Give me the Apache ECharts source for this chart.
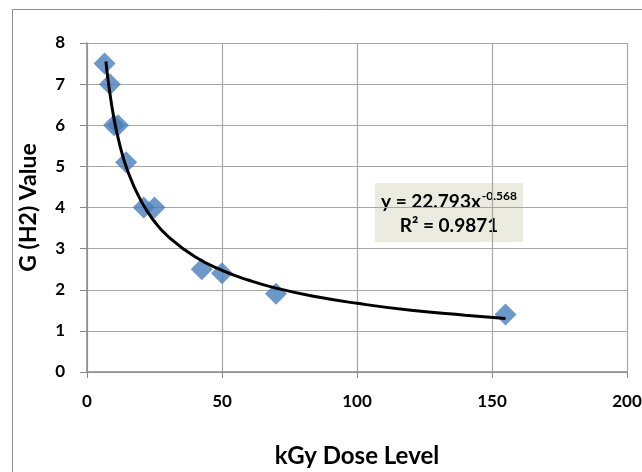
<!DOCTYPE html>
<html>
<head>
<meta charset="utf-8">
<script src="https://cdn.jsdelivr.net/npm/echarts@6/dist/echarts.min.js"></script>
<style>
  html, body { margin: 0; padding: 0; background: #fff; }
  #chart { width: 642px; height: 472px; }
</style>
</head>
<body>
<div id="chart"></div>
<script>
// measured points (kGy, G(H2))
var doseX = [6.5, 8.5, 10, 11.5, 14.5, 21, 25, 42.5, 50, 70, 155]
var gValue = [7.5, 7.0, 6.0, 6.0, 5.1, 4.0, 4.0, 2.5, 2.4, 1.9, 1.4]

// power trendline
var trendX = [7, 8, 10, 12, 15, 20, 25, 30, 40, 50, 60, 70, 85, 100, 120, 140, 155]
var trendY = [7.55, 7.0, 6.16, 5.56, 4.9, 4.16, 3.66, 3.3, 2.8, 2.47, 2.23, 2.04, 1.83, 1.67, 1.5, 1.38, 1.3]

var xTicks = [0, 50, 100, 150, 200]
var yTicks = [0, 1, 2, 3, 4, 5, 6, 7, 8]

var chart = echarts.init(document.getElementById('chart'))

var pts = doseX.map(function (x, i) { return [x, gValue[i]] })
var trend = trendX.map(function (x, i) { return [x, trendY[i]] })

var fontFam = 'Lato, "Open Sans", sans-serif'

var option = {
  animation: false,
  backgroundColor: '#fff',
  grid: {
    left: 87,
    right: 15,
    top: 43,
    bottom: 100,
    outerBoundsMode: 'none'
  },
  xAxis: {
    type: 'value',
    min: xTicks[0],
    max: xTicks[xTicks.length - 1],
    interval: 50,
    name: 'kGy Dose Level',
    nameLocation: 'middle',
    nameGap: 72,
    nameTextStyle: {
      color: '#000',
      fontSize: 24,
      fontWeight: 'bold',
      fontFamily: fontFam
    },
    axisLine: { show: true, lineStyle: { color: '#8a8a8a', width: 1.5 } },
    axisTick: { show: true, length: 6, lineStyle: { color: '#8a8a8a' } },
    axisLabel: {
      color: '#000',
      fontSize: 17,
      fontWeight: 'bold',
      fontFamily: fontFam,
      margin: 21
    },
    // 分割线
    splitLine: { show: true, lineStyle: { color: '#a6a6a6', width: 1.2 } }
  },
  yAxis: {
    type: 'value',
    min: yTicks[0],
    max: yTicks[yTicks.length - 1],
    interval: 1,
    name: 'G (H2) Value',
    nameLocation: 'middle',
    nameGap: 47,
    nameTextStyle: {
      color: '#000',
      fontSize: 23,
      fontWeight: 'bold',
      fontFamily: fontFam
    },
    axisLine: { show: true, lineStyle: { color: '#8a8a8a', width: 1.5 } },
    axisTick: { show: true, length: 7, lineStyle: { color: '#8a8a8a' } },
    axisLabel: {
      color: '#000',
      fontSize: 17,
      fontWeight: 'bold',
      fontFamily: fontFam,
      margin: 22
    },
    splitLine: { show: true, lineStyle: { color: '#a6a6a6', width: 1.2 } }
  },
  series: [
    {
      type: 'scatter',
      symbol: 'diamond',
      symbolSize: 22,
      itemStyle: { color: '#4a7ebb' },
      z: 2,
      data: pts
    },
    {
      type: 'line',
      smooth: true,
      showSymbol: false,
      lineStyle: { color: '#000', width: 3 },
      z: 3,
      data: trend
    }
  ],
  graphic: [
    {
      type: 'rect',
      left: 10,
      top: 7,
      shape: { width: 650, height: 480 },
      style: { fill: 'none', stroke: '#8c8c8c', lineWidth: 1 },
      silent: true,
      z: -10
    },
    {
      type: 'group',
      left: 375,
      top: 183,
      z: 10,
      children: [
        {
          type: 'rect',
          shape: { x: 0, y: 0, width: 148, height: 59 },
          style: { fill: '#ecebdf' }
        },
        {
          type: 'text',
          x: 74,
          y: 31,
          style: {
            text: '{a|y = 22.793x}{s|-0.568}\n{a|R² = 0.9871}',
            align: 'center',
            verticalAlign: 'middle',
            fill: '#000',
            rich: {
              a: {
                fontSize: 19,
                fontWeight: 'bold',
                fontFamily: fontFam,
                lineHeight: 24,
                fill: '#000'
              },
              s: {
                fontSize: 12,
                fontWeight: 'bold',
                fontFamily: fontFam,
                lineHeight: 24,
                verticalAlign: 'top',
                padding: [0, 0, 8, 1],
                fill: '#000'
              }
            }
          }
        }
      ]
    }
  ]
}

chart.setOption(option)
</script>
</body>
</html>
